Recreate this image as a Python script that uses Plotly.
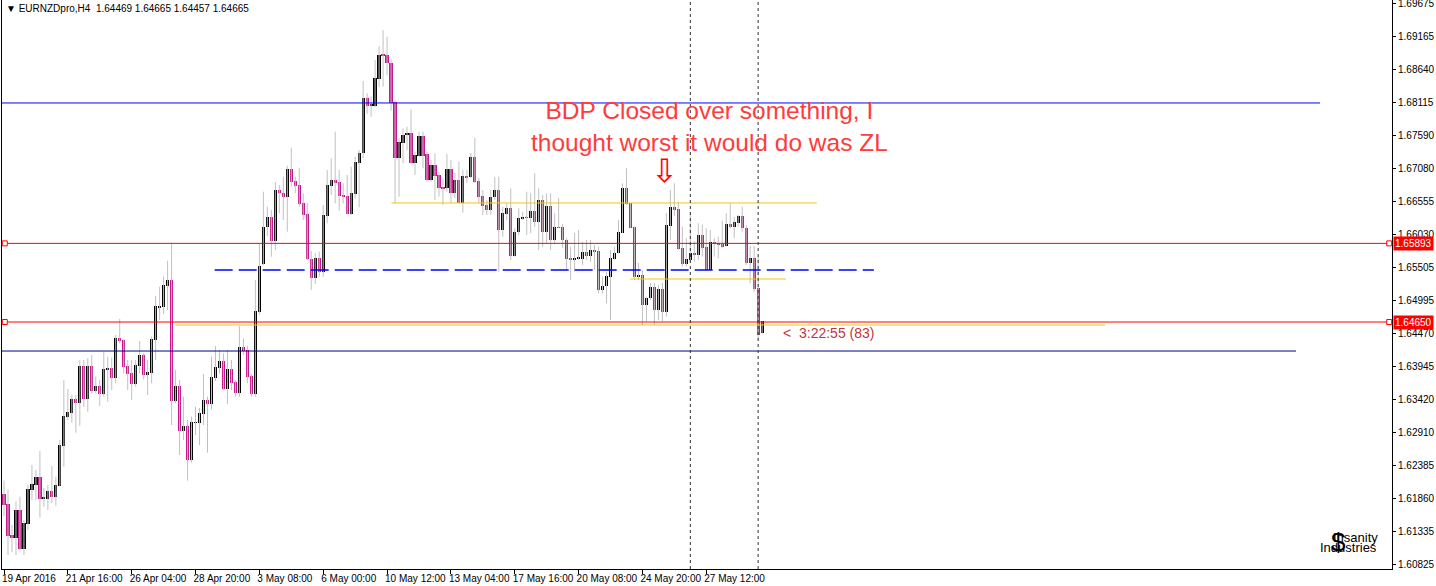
import plotly.graph_objects as go

# EURNZD H4 - bars indexed from 19 Apr 2016 00:00
tick_bars = [0, 16, 32, 48, 64, 80, 96, 112, 128, 144, 160, 176]
tick_text = ["19 Apr 2016", "21 Apr 16:00", "26 Apr 04:00", "28 Apr 20:00", "3 May 08:00",
             "6 May 00:00", "10 May 12:00", "13 May 04:00", "17 May 16:00", "20 May 08:00",
             "24 May 20:00", "27 May 12:00"]
price_ticks = [1.69675, 1.69165, 1.68640, 1.68115, 1.67590, 1.67080, 1.66555, 1.66030, 1.65505,
               1.64995, 1.64470, 1.63945, 1.63420, 1.62910, 1.62385, 1.61860, 1.61335, 1.60825]

opens = [
    1.61933, 1.61775, 1.61285, 1.61242, 1.61680, 1.61064, 1.61459, 1.61996, 1.62075, 1.62201,
    1.61854, 1.61854, 1.61980, 1.61885, 1.62059, 1.62691, 1.63149, 1.63213, 1.63434, 1.63371,
    1.63955, 1.63434, 1.63955, 1.63560, 1.63639, 1.63513, 1.63892, 1.63924, 1.63766, 1.64398,
    1.64366, 1.63955, 1.63845, 1.63671, 1.63955, 1.64129, 1.63813, 1.63845, 1.64366, 1.64887,
    1.64887, 1.65219, 1.65314, 1.63402, 1.63639, 1.62928, 1.63007, 1.62470, 1.63055, 1.63055,
    1.63197, 1.63418, 1.63355, 1.63766, 1.63924, 1.64034, 1.63592, 1.63908, 1.63702, 1.63529,
    1.64255, 1.64208, 1.63797, 1.63513, 1.64808, 1.65567, 1.66151, 1.66314, 1.65935, 1.66736,
    1.66693, 1.66630, 1.67068, 1.66878, 1.66815, 1.66531, 1.66357, 1.65646, 1.65350, 1.65666,
    1.65445, 1.66330, 1.66804, 1.66894, 1.66867, 1.66662, 1.66646, 1.66357, 1.66673, 1.67167,
    1.67316, 1.68194, 1.68068, 1.68068, 1.68490, 1.68874, 1.68874, 1.68747, 1.68122, 1.67237,
    1.67483, 1.67605, 1.67637, 1.67167, 1.67278, 1.67589, 1.67305, 1.66894, 1.67131, 1.66973,
    1.66788, 1.66763, 1.67068, 1.66684, 1.66894, 1.66535, 1.66957, 1.66937, 1.67253, 1.66878,
    1.66641, 1.66499, 1.66420, 1.66621, 1.66736, 1.66104, 1.66362, 1.66452, 1.65698, 1.66068,
    1.66283, 1.66309, 1.66294, 1.66404, 1.66230, 1.66578, 1.66072, 1.66483, 1.65951, 1.66151,
    1.66156, 1.65946, 1.65666, 1.65635, 1.65657, 1.65651, 1.65761, 1.65698, 1.65788, 1.65777,
    1.65156, 1.65219, 1.65366, 1.65651, 1.65736, 1.66061, 1.66772, 1.66526, 1.66156, 1.65366,
    1.65393, 1.64919, 1.65025, 1.65208, 1.64840, 1.65172, 1.64813, 1.66172, 1.66463, 1.66436,
    1.65824, 1.65567, 1.65630, 1.65745, 1.65709, 1.66025, 1.65835, 1.65472, 1.65919, 1.65899,
    1.65878, 1.65851, 1.66199, 1.66156, 1.66215, 1.66325, 1.66140, 1.65587, 1.65666, 1.65192,
    1.64469]
highs = [
    1.62143, 1.62007, 1.61443, 1.61811, 1.61890, 1.61522, 1.62075, 1.62391, 1.62312, 1.62612,
    1.62028, 1.62075, 1.62375, 1.62206, 1.62786, 1.63734, 1.63592, 1.63497, 1.63497, 1.64050,
    1.64050, 1.64082, 1.64129, 1.63786, 1.63734, 1.64181, 1.64102, 1.64082, 1.64445, 1.64698,
    1.64377, 1.64050, 1.64050, 1.64050, 1.64350, 1.64156, 1.64050, 1.64418, 1.65061, 1.65208,
    1.65366, 1.65619, 1.65903, 1.63892, 1.63734, 1.63470, 1.63102, 1.63154, 1.63312, 1.63292,
    1.63829, 1.63470, 1.64102, 1.64271, 1.64208, 1.64156, 1.64208, 1.64050, 1.63734, 1.64587,
    1.64393, 1.64271, 1.63829, 1.65314, 1.65883, 1.66709, 1.66472, 1.66420, 1.66858, 1.66815,
    1.66946, 1.67120, 1.67404, 1.66946, 1.67079, 1.66684, 1.66526, 1.65772, 1.65736, 1.65761,
    1.66499, 1.67052, 1.67237, 1.67657, 1.67052, 1.66842, 1.66973, 1.67104, 1.67262, 1.67368,
    1.68458, 1.68264, 1.68210, 1.68790, 1.69011, 1.69264, 1.69158, 1.68801, 1.68158, 1.67553,
    1.67711, 1.67736, 1.68011, 1.67341, 1.67657, 1.67657, 1.67341, 1.67210, 1.67316, 1.67025,
    1.66921, 1.67305, 1.67210, 1.67005, 1.67183, 1.67052, 1.67052, 1.67321, 1.67558, 1.66926,
    1.66736, 1.66578, 1.66736, 1.66946, 1.66946, 1.66472, 1.66526, 1.66763, 1.66131, 1.66447,
    1.66393, 1.66709, 1.66684, 1.67000, 1.66763, 1.66657, 1.66684, 1.66684, 1.66368, 1.66610,
    1.66199, 1.65978, 1.65840, 1.66057, 1.66104, 1.65919, 1.65946, 1.65946, 1.65867, 1.65840,
    1.65366, 1.65445, 1.65788, 1.65840, 1.66262, 1.66842, 1.67079, 1.66531, 1.66156, 1.65583,
    1.65472, 1.65050, 1.65267, 1.65267, 1.65235, 1.65267, 1.66373, 1.66736, 1.66842, 1.66551,
    1.66156, 1.65973, 1.66393, 1.65930, 1.66210, 1.66188, 1.66131, 1.66104, 1.65973, 1.65998,
    1.66251, 1.66368, 1.66526, 1.66314, 1.66341, 1.66472, 1.66183, 1.65851, 1.65851, 1.65682,
    1.64665]
lows = [
    1.61585, 1.60969, 1.61016, 1.60969, 1.61048, 1.60969, 1.61364, 1.61838, 1.61838, 1.61558,
    1.61732, 1.61680, 1.61791, 1.61748, 1.62048, 1.62364, 1.63102, 1.63059, 1.62901, 1.63012,
    1.63312, 1.63233, 1.63524, 1.63524, 1.63323, 1.63470, 1.63391, 1.63576, 1.63682, 1.64314,
    1.63840, 1.63576, 1.63418, 1.63628, 1.63840, 1.63745, 1.63497, 1.63682, 1.64050, 1.64682,
    1.64777, 1.64840, 1.63023, 1.63366, 1.62549, 1.62786, 1.62143, 1.62427, 1.62865, 1.62707,
    1.63023, 1.62585, 1.63271, 1.63718, 1.63840, 1.63576, 1.63355, 1.63576, 1.63470, 1.63470,
    1.64129, 1.63682, 1.63470, 1.63470, 1.64766, 1.65551, 1.66009, 1.65682, 1.65788, 1.66368,
    1.66262, 1.66077, 1.66788, 1.66684, 1.66472, 1.66262, 1.65630, 1.65156, 1.65251, 1.65366,
    1.65366, 1.66210, 1.66657, 1.66526, 1.66409, 1.66526, 1.66357, 1.66341, 1.66605, 1.66463,
    1.67237, 1.67937, 1.67894, 1.68043, 1.68368, 1.68368, 1.68553, 1.67989, 1.66526, 1.66630,
    1.67158, 1.67368, 1.67147, 1.66973, 1.67262, 1.67079, 1.66867, 1.66867, 1.66578, 1.66630,
    1.66499, 1.66709, 1.66531, 1.66610, 1.66526, 1.66377, 1.66847, 1.66926, 1.66847, 1.66531,
    1.66341, 1.66341, 1.66341, 1.66578, 1.65445, 1.65998, 1.66262, 1.65630, 1.65682, 1.66025,
    1.66262, 1.66025, 1.66052, 1.66156, 1.65788, 1.65840, 1.65894, 1.65788, 1.65894, 1.66136,
    1.65820, 1.65472, 1.65314, 1.65445, 1.65630, 1.65551, 1.65630, 1.65603, 1.65472, 1.65104,
    1.65104, 1.64946, 1.64682, 1.65630, 1.65736, 1.66052, 1.66499, 1.66136, 1.65314, 1.65314,
    1.64603, 1.64655, 1.64998, 1.64603, 1.64682, 1.64655, 1.64734, 1.65946, 1.66325, 1.65788,
    1.65524, 1.65524, 1.65578, 1.65603, 1.65630, 1.65682, 1.65472, 1.65472, 1.65682, 1.65657,
    1.65815, 1.65840, 1.66131, 1.65973, 1.66156, 1.66077, 1.65551, 1.65262, 1.65129, 1.64366,
    1.64457]
closes = [
    1.61759, 1.61269, 1.61242, 1.61680, 1.61064, 1.61470, 1.62012, 1.62091, 1.62201, 1.61854,
    1.61870, 1.61980, 1.61885, 1.62075, 1.62707, 1.63165, 1.63228, 1.63434, 1.63371, 1.63955,
    1.63434, 1.63955, 1.63560, 1.63639, 1.63513, 1.63908, 1.63924, 1.63766, 1.64398, 1.64350,
    1.63939, 1.63829, 1.63671, 1.63971, 1.64129, 1.63813, 1.63860, 1.64382, 1.64903, 1.64903,
    1.65235, 1.65314, 1.63402, 1.63639, 1.62928, 1.63007, 1.62470, 1.63070, 1.63070, 1.63213,
    1.63418, 1.63355, 1.63781, 1.63939, 1.64034, 1.63592, 1.63908, 1.63687, 1.63529, 1.64255,
    1.64192, 1.63781, 1.63513, 1.64824, 1.65535, 1.66156, 1.66314, 1.65935, 1.66736, 1.66684,
    1.66630, 1.67068, 1.66867, 1.66804, 1.66520, 1.66341, 1.65641, 1.65350, 1.65666, 1.65445,
    1.66341, 1.66815, 1.66894, 1.66851, 1.66646, 1.66630, 1.66357, 1.66684, 1.67183, 1.67325,
    1.68194, 1.68068, 1.68079, 1.68510, 1.68869, 1.68858, 1.68738, 1.68115, 1.67237, 1.67494,
    1.67605, 1.67637, 1.67167, 1.67289, 1.67589, 1.67273, 1.66894, 1.67131, 1.66962, 1.66772,
    1.66763, 1.67068, 1.66684, 1.66894, 1.66535, 1.66957, 1.66937, 1.67253, 1.66858, 1.66630,
    1.66488, 1.66420, 1.66621, 1.66736, 1.66104, 1.66377, 1.66452, 1.65698, 1.66068, 1.66294,
    1.66309, 1.66294, 1.66404, 1.66230, 1.66578, 1.66072, 1.66483, 1.65951, 1.66151, 1.66136,
    1.65946, 1.65646, 1.65635, 1.65666, 1.65662, 1.65761, 1.65698, 1.65788, 1.65761, 1.65156,
    1.65219, 1.65377, 1.65657, 1.65745, 1.66077, 1.66772, 1.66510, 1.66140, 1.65366, 1.65393,
    1.64919, 1.65034, 1.65208, 1.64840, 1.65172, 1.64813, 1.66188, 1.66463, 1.66420, 1.65804,
    1.65567, 1.65646, 1.65745, 1.65709, 1.66025, 1.65820, 1.65472, 1.65919, 1.65883, 1.65862,
    1.65851, 1.66199, 1.66156, 1.66230, 1.66325, 1.66131, 1.65587, 1.65666, 1.65172, 1.64445,
    1.64665]

# drawn objects: horizontal lines (price, from bar, to bar) and vertical lines (bar)
hl_price = [1.68111, 1.65893, 1.65472, 1.64650, 1.64603, 1.64192, 1.66531, 1.65330]
hl_start = [-0.5, -0.5, 52.8, -0.5, 42.8, -0.5, 97.1, 156.9]
hl_end = [329.8, 347.9, 218.0, 347.9, 276.0, 323.8, 203.7, 196.0]
hl_kind = ["blue", "red", "bluedash", "red", "yellow", "navy", "yellow", "yellow"]
vl_bars = [172, 189]
marked_prices = [1.65893, 1.64650]

STYLE = {
    "blue": dict(color="#0000FF", width=1),
    "navy": dict(color="#000090", width=1),
    "red": dict(color="#FF0000", width=1),
    "bluedash": dict(color="#0000FF", width=1.5, dash="18px,6px"),
    "yellow": dict(color="#F2C80F", width=1),
}
BULL, BEAR, WICK = "#000000", "#C8168C", "#C0C0C0"
FONT = "Liberation Sans, Arial, DejaVu Sans"

n = len(opens)
idx = list(range(n))
wx, wy = [], []
for i in idx:
    wx += [i, i, None]
    wy += [lows[i], highs[i], None]
base = [min(o, c) for o, c in zip(opens, closes)]
body = [max(abs(c - o), 0.00012) for o, c in zip(opens, closes)]
colors = [BULL if c >= o else BEAR for o, c in zip(opens, closes)]

fig = go.Figure()
fig.add_trace(go.Scatter(x=wx, y=wy, mode="lines", line=dict(color=WICK, width=1),
                         hoverinfo="skip", showlegend=False))
fig.add_trace(go.Bar(x=idx, y=body, base=base, width=0.8,
                     marker=dict(color=colors, line=dict(width=0)), showlegend=False))

for p, a, b, k in zip(hl_price, hl_start, hl_end, hl_kind):
    fig.add_shape(type="line", xref="x", yref="y", x0=a, x1=b, y0=p, y1=p,
                  line=STYLE[k], layer="above")
for v in vl_bars:
    fig.add_shape(type="line", xref="x", yref="paper", x0=v, x1=v, y0=0, y1=1,
                  line=dict(color="#333333", width=1, dash="3px,3px"), layer="above")
for p in marked_prices:
    for anchor in (0.002, 0.998):
        fig.add_shape(type="rect", xref="paper", yref="y", xsizemode="pixel", ysizemode="pixel",
                      xanchor=anchor, yanchor=p, x0=-2.5, x1=2.5, y0=-2.5, y1=2.5,
                      line=dict(color="#FF0000", width=1), fillcolor="white", layer="above")
    fig.add_annotation(xref="paper", yref="y", x=1, y=p, xanchor="left", xshift=1,
                       text=f"{p:.5f}", showarrow=False, bgcolor="#FF0000", borderpad=1,
                       font=dict(family=FONT, size=10, color="white"))

fig.add_annotation(xref="paper", yref="paper", x=0, y=1, xanchor="left", yanchor="top",
                   xshift=2, yshift=-1, showarrow=False,
                   text="▼ EURNZDpro,H4  1.64469 1.64665 1.64457 1.64665",
                   font=dict(family=FONT, size=10, color="black"))
fig.add_annotation(xref="x", yref="y", x=176.7, y=1.67739, showarrow=False,
                   text="BDP Closed over something, I<br>thought worst it would do was ZL",
                   font=dict(family=FONT, size=24.5, color="#FF3B3B"))
fig.add_annotation(xref="x", yref="y", x=165.6, y=1.67040, showarrow=False, text="⇩",
                   font=dict(family="DejaVu Sans", size=32, color="#FF0000"))
fig.add_annotation(xref="x", yref="y", x=194.8, y=1.64477, xanchor="left", showarrow=False,
                   text="<  3:22:55 (83)", font=dict(family=FONT, size=14, color="#C03838"))
# logo, bottom right
fig.add_annotation(xref="paper", yref="paper", x=0.9738, y=0.0562, xanchor="center",
                   yanchor="middle", showarrow=False,
                   text="Insanity", font=dict(family=FONT, size=13, color="black"))
fig.add_annotation(xref="paper", yref="paper", x=0.9688, y=0.0370, xanchor="center",
                   yanchor="middle", showarrow=False,
                   text="Industries", font=dict(family=FONT, size=13, color="black"))
fig.add_annotation(xref="paper", yref="paper", x=0.9612, y=0.0470, xanchor="center",
                   yanchor="middle", showarrow=False, text="$",
                   font=dict(family=FONT, size=26, color="black"))

fig.update_layout(
    width=1436, height=586,
    margin=dict(l=2, r=44, t=0, b=17),
    paper_bgcolor="white", plot_bgcolor="white",
    bargap=0, showlegend=False, hovermode=False,
    font=dict(family=FONT, size=10, color="black"),
)
fig.update_xaxes(range=[-0.5, 347.85], tickvals=tick_bars, ticktext=tick_text, tickangle=0,
                 ticks="outside", ticklen=4, tickcolor="black", ticklabelposition="outside right",
                 ticklabelshift=-3, ticklabeloverflow="allow",
                 showline=True, linecolor="black", linewidth=1, showgrid=False, zeroline=False,
                 tickfont=dict(size=10), automargin=False)
fig.update_yaxes(range=[1.60748, 1.69738], side="right", tickvals=price_ticks, tickformat=".5f",
                 ticks="outside", ticklen=3, tickcolor="black", showline=True, mirror=True,
                 linecolor="black", linewidth=1, showgrid=False, zeroline=False,
                 ticklabeloverflow="allow", tickfont=dict(size=10), automargin=False)

fig.write_html("out.html", config={"displayModeBar": False},
               post_script="document.body.style.margin='0';")
